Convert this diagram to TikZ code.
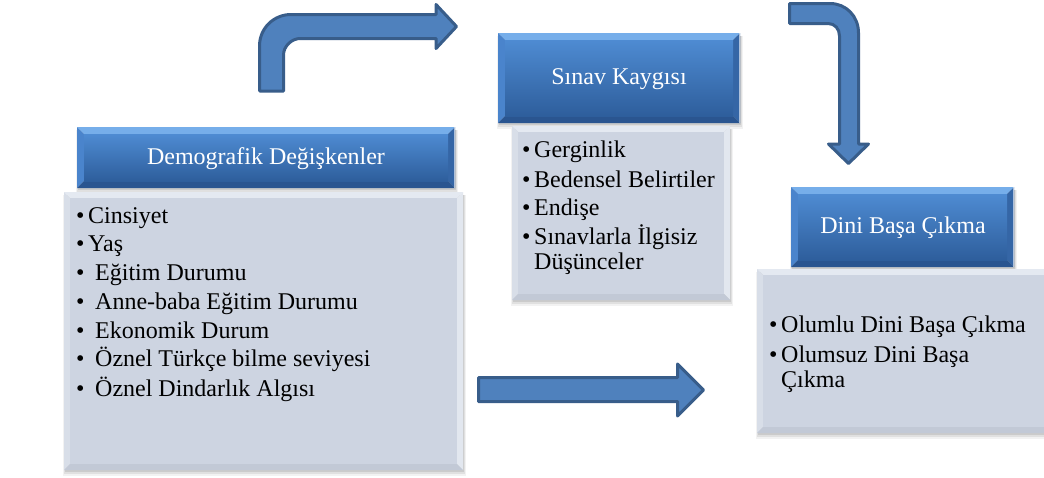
\documentclass[tikz,border=0pt]{standalone}
\usepackage{fontspec}
\setmainfont{Liberation Serif}
\definecolor{arrfill}{HTML}{4F81BD}
\definecolor{arrline}{HTML}{385D8A}
\definecolor{hdrTopC}{HTML}{4E8BD2}
\definecolor{hdrBotC}{HTML}{2E5E9C}
\definecolor{hdrBevT}{HTML}{76AEEA}
\definecolor{hdrBevL}{HTML}{4A84CC}
\definecolor{hdrBevR}{HTML}{3566A6}
\definecolor{hdrBevB}{HTML}{2A5590}
\definecolor{bodyFace}{HTML}{CDD4E1}
\definecolor{bodyBevT}{HTML}{E4E9F1}
\definecolor{bodyBevL}{HTML}{D8DEE8}
\definecolor{bodyBevR}{HTML}{E2E7EF}
\definecolor{bodyBevB}{HTML}{C2C9D6}
% bevel frame: x1 y1 x2 y2 b top left right bottom
\newcommand\bevelframe[9]{%
  \fill[#6] (#1,#2) -- (#3,#2) -- ({#3-#5},{#2+#5}) -- ({#1+#5},{#2+#5}) -- cycle;
  \fill[#7] (#1,#2) -- ({#1+#5},{#2+#5}) -- ({#1+#5},{#4-#5}) -- (#1,#4) -- cycle;
  \fill[#8] (#3,#2) -- ({#3-#5},{#2+#5}) -- ({#3-#5},{#4-#5}) -- (#3,#4) -- cycle;
  \fill[#9] (#1,#4) -- ({#1+#5},{#4-#5}) -- ({#3-#5},{#4-#5}) -- (#3,#4) -- cycle;
}
\newcommand\softshadow[4]{%
  \fill[black,opacity=0.05] ({#1-1},{#2+3}) rectangle ({#3+3},{#4+6});
  \fill[black,opacity=0.07] ({#1},{#2+3}) rectangle ({#3+2},{#4+4});
  \fill[black,opacity=0.09] ({#1+1},{#2+3}) rectangle ({#3+1},{#4+2});
}
\newcommand\hdrbox[4]{%
  \softshadow{#1}{#2}{#3}{#4}
  \bevelframe{#1}{#2}{#3}{#4}{7}{hdrBevT}{hdrBevL}{hdrBevR}{hdrBevB}
  \shade[top color=hdrTopC,bottom color=hdrBotC] ({#1+7},{#2+7}) rectangle ({#3-7},{#4-7});
  \draw[white,opacity=0.6,line width=1pt] ({#3-0.5},{#2}) -- ({#3-0.5},{#4});
}
\newcommand\bodybox[4]{%
  \softshadow{#1}{#2}{#3}{#4}
  \bevelframe{#1}{#2}{#3}{#4}{6}{bodyBevT}{bodyBevL}{bodyBevR}{bodyBevB}
  \fill[bodyFace] ({#1+6},{#2+6}) rectangle ({#3-6},{#4-6});
}
\newcommand\bl{\makebox[12pt][l]{\textbullet}}
\tikzset{
  hdrtext/.style={text=white,font=\fontsize{24}{29}\selectfont,inner sep=0pt,anchor=base},
  itemtext/.style={text=black,font=\fontsize{24}{29}\selectfont,inner sep=0pt,anchor=base west},
  blockarrow/.style={fill=arrfill,draw=arrline,line width=3pt,line join=round}
}
\begin{document}
\begin{tikzpicture}[x=1pt,y=-1pt]
\useasboundingbox (0,0) rectangle (1044,477);
\fill[white] (0,0) rectangle (1044,477);

% ---------- Block arrows ----------
\draw[blockarrow] (259.5,91) -- (259.5,46)
  .. controls (259.5,28) and (274,14.5) .. (291,14.5)
  -- (436,14.5) -- (436,4.5) -- (456.5,26.5) -- (436,48.5) -- (436,38.5)
  -- (300,38.5) .. controls (292,38.5) and (283.5,46) .. (283.5,55)
  -- (283.5,91) -- cycle;
\draw[blockarrow] (789.5,3.5) -- (830,3.5)
  .. controls (846,3.5) and (858.5,16) .. (858.5,33)
  -- (858.5,144) -- (868.5,144) -- (848.5,163.5) -- (828.5,144) -- (839.5,144)
  -- (839.5,36) .. controls (839.5,29) and (835,23.5) .. (828,23.5)
  -- (789.5,23.5) -- cycle;
\draw[blockarrow] (478.5,377.5) -- (677.5,377.5) -- (677.5,364) -- (703.5,390)
  -- (677.5,416) -- (677.5,401.5) -- (478.5,401.5) -- cycle;

% ---------- Demografik Değişkenler ----------
\hdrbox{77}{127}{455}{188}
\node[hdrtext] (demH) at (266,164) {Demografik Değişkenler};
\bodybox{64}{192}{463}{470}
\node[itemtext] (d1) at (76,223) {\bl Cinsiyet};
\node[itemtext] (d2) at (76,251) {\bl Yaş};
\node[itemtext] (d3) at (76,280) {\bl\hspace{7pt}Eğitim Durumu};
\node[itemtext] (d4) at (76,309) {\bl\hspace{7pt}Anne-baba Eğitim Durumu};
\node[itemtext] (d5) at (76,338) {\bl\hspace{7pt}Ekonomik Durum};
\node[itemtext] (d6) at (76,366) {\bl\hspace{7pt}Öznel Türkçe bilme seviyesi};
\node[itemtext] (d7) at (76,396) {\bl\hspace{7pt}Öznel Dindarlık Algısı};

% ---------- Sınav Kaygısı ----------
\hdrbox{498}{33}{740}{123}
\node[hdrtext] (sinH) at (619,84) {Sınav Kaygısı};
\bodybox{512}{126}{730}{300}
\node[itemtext] (s1) at (522,157) {\bl Gerginlik};
\node[itemtext] (s2) at (522,187) {\bl Bedensel Belirtiler};
\node[itemtext] (s3) at (522,215) {\bl Endişe};
\node[itemtext] (s4) at (522,244) {\bl Sınavlarla İlgisiz};
\node[itemtext] (s5) at (534,269) {Düşünceler};

% ---------- Dini Başa Çıkma ----------
\hdrbox{791}{187}{1014}{267}
\node[hdrtext] (dinH) at (903,233) {Dini Başa Çıkma};
\bodybox{757}{269}{1050}{433}
\node[itemtext] (b1) at (769,332) {\bl Olumlu Dini Başa Çıkma};
\node[itemtext] (b2) at (769,362) {\bl Olumsuz Dini Başa};
\node[itemtext] (b3) at (781,387) {Çıkma};
\end{tikzpicture}
\end{document}
